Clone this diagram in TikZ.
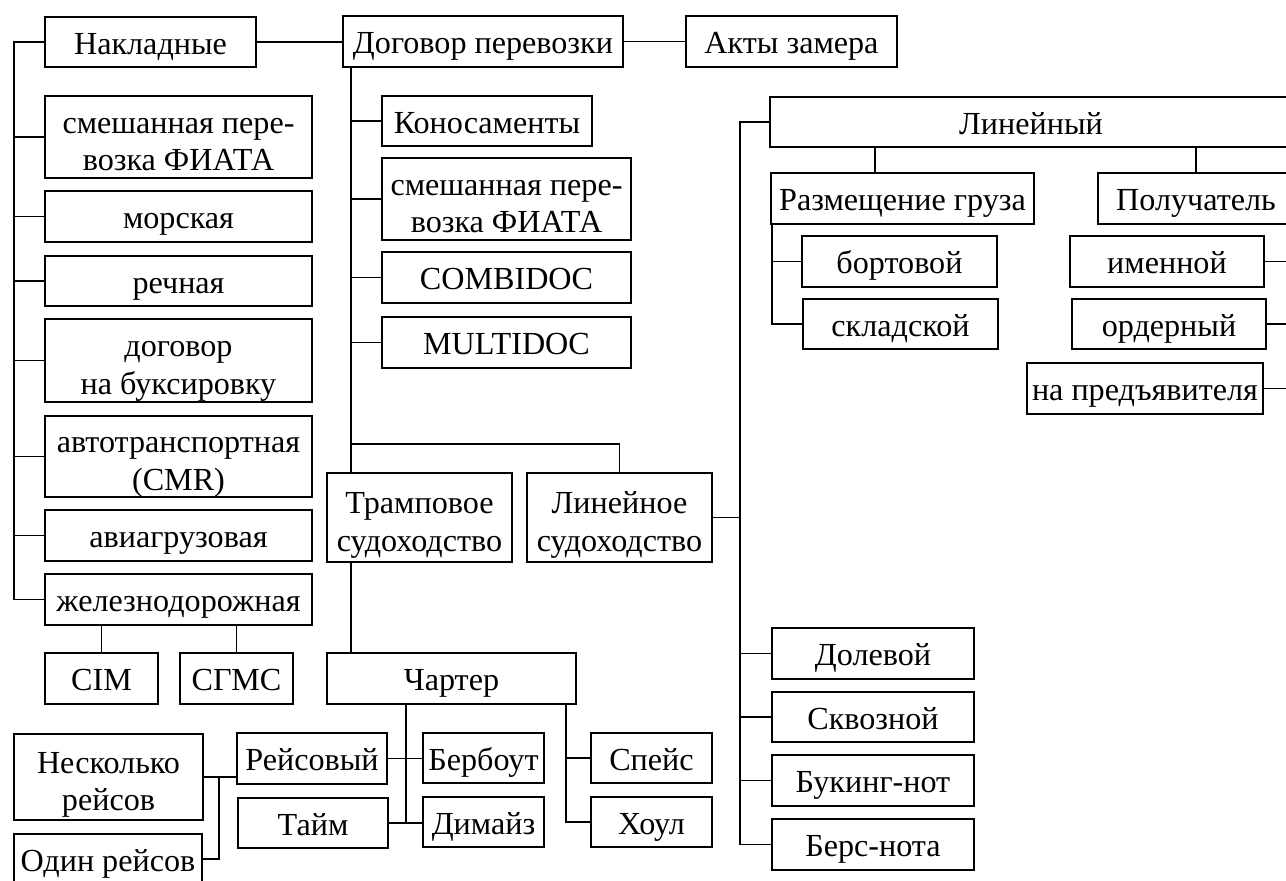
\documentclass[tikz,border=0pt]{standalone}
\usepackage{fontspec}
\setmainfont{Liberation Serif}
\usetikzlibrary{positioning}
\tikzset{
    box/.style={
        rectangle,
        draw=black,
        line width=1pt,
        inner sep=0pt,
        align=center,
        font=\fontsize{18.3}{21.5}\selectfont,
        text height=19.6pt,
        text depth=5.4pt
    },
    pair/.style={
        text height=42.5pt,
        text depth=4pt
    },
    wh/.style 2 args={
        minimum width=#1*0.02cm,
        minimum height=#2*0.02cm
    },
    link/.style={
        line width=1pt
    }
}

\begin{document}
\begin{tikzpicture}[x=0.02cm, y=-0.02cm]

\useasboundingbox (0,0) rectangle (1286,880);
\clip (0,0) rectangle (1286,880);

% top row
\node (nakl) [box, wh={211}{50}] at (150.5,42) {Накладные};
\node (dogovor) [box, wh={280}{51}] at (483,41.5) {Договор перевозки};
\node (akty) [box, wh={211}{51}] at (791.5,41.5) {Акты замера};

% left column
\node (smesh1) [box, pair, wh={267}{82}] at (178.5,137) {смешанная пере-\\возка ФИАТА};
\node (morsk) [box, wh={267}{51}] at (178.5,216.5) {морская};
\node (rechn) [box, wh={267}{50}] at (178.5,281) {речная};
\node (buks) [box, pair, wh={267}{83}] at (178.5,360.5) {договор\\на буксировку};
\node (avto) [box, pair, wh={267}{81}] at (178.5,456.5) {автотранспортная\\(CMR)};
\node (avia) [box, wh={267}{51}] at (178.5,535.5) {авиагрузовая};
\node (zhd) [box, wh={267}{51}] at (178.5,599.5) {железнодорожная};
\node (cim) [box, wh={113}{51}] at (101.5,678.5) {CIM};
\node (sgms) [box, wh={113}{51}] at (236.5,678.5) {СГМС};

% middle column
\node (konos) [box, wh={210}{50}] at (487,121) {Коносаменты};
\node (smesh2) [box, pair, wh={249}{82}] at (506.5,199) {смешанная пере-\\возка ФИАТА};
\node (combi) [box, wh={249}{51}] at (506.5,277.5) {COMBIDOC};
\node (multi) [box, wh={249}{51}] at (506.5,342.5) {MULTIDOC};
\node (tramp) [box, pair, wh={185}{89}] at (419.5,517.5) {Трамповое\\судоходство};
\node (linsud) [box, pair, wh={185}{89}] at (619.5,517.5) {Линейное\\судоходство};

% charter
\node (charter) [box, wh={249}{51}] at (451.5,678.5) {Чартер};
\node (reys) [box, wh={150}{51}] at (312,758.5) {Рейсовый};
\node (taym) [box, wh={150}{50}] at (313,823) {Тайм};
\node (berb) [box, wh={121}{50}] at (483.5,758) {Бербоут};
\node (dimayz) [box, wh={121}{50}] at (483.5,822) {Димайз};
\node (speys) [box, wh={121}{50}] at (651.5,758) {Спейс};
\node (houl) [box, wh={121}{50}] at (651.5,822) {Хоул};
\node (neskolko) [box, pair, wh={189}{86}] at (108.5,777) {Несколько\\рейсов};
\node (odin) [box, wh={188}{50}] at (108,859) {Один рейсов};

% liner
\node (linzh) [box, wh={522}{50}] at (1031,122) {Линейный};
\node (razm) [box, wh={263}{51}] at (902.5,198.5) {Размещение груза};
\node (bort) [box, wh={195}{51}] at (899.5,261.5) {бортовой};
\node (sklad) [box, wh={195}{50}] at (900.5,324) {складской};
\node (poluch) [box, wh={196}{51}] at (1196,198.5) {Получатель};
\node (imen) [box, wh={194}{51}] at (1167,261.5) {именной};
\node (order) [box, wh={194}{50}] at (1169,324) {ордерный};
\node (predj) [box, wh={236}{51}] at (1145,388.5) {на предъявителя};
\node (dolev) [box, wh={202}{51}] at (873,653.5) {Долевой};
\node (skvoz) [box, wh={202}{50}] at (873,717) {Сквозной};
\node (buking) [box, wh={202}{51}] at (873,780.5) {Букинг-нот};
\node (bers) [box, wh={202}{51}] at (873,844.5) {Берс-нота};

% trunks
\coordinate (ltop) at (14,42);
\coordinate (mtrunk) at (351,0);
\coordinate (split) at (351,444);
\coordinate (rtop) at (740,122);
\coordinate (rzm) at (875,0);
\coordinate (rzl) at (772,0);
\coordinate (plr) at (1289,0);
\coordinate (chl) at (406,0);
\coordinate (chr) at (566,0);
\coordinate (nsk) at (219,0);

\draw [link] (nakl.east) -- (nakl.east -| dogovor.west);
\draw [link] (dogovor.east) -- (dogovor.east -| akty.west);

\draw [link] (nakl.west) -- (ltop) |- (zhd.west);
\foreach \n in {smesh1,morsk,rechn,buks,avto,avia}
    \draw [link] (ltop |- \n.west) -- (\n.west);
\draw [link] (cim.north) -- (cim.north |- zhd.south);
\draw [link] (sgms.north) -- (sgms.north |- zhd.south);

\draw [link] (mtrunk |- dogovor.south) -- (mtrunk |- tramp.north);
\foreach \n in {konos,smesh2,combi,multi}
    \draw [link] (mtrunk |- \n.west) -- (\n.west);
\draw [link] (split) -| (linsud.north);
\draw [link] (mtrunk |- tramp.south) -- (mtrunk |- charter.north);

\draw [link] (linzh.west) -- (rtop) |- (bers.west);
\draw [link] (linsud.east) -- (rtop |- linsud.east);
\foreach \n in {dolev,skvoz,buking}
    \draw [link] (rtop |- \n.west) -- (\n.west);

\draw [link] (linzh.south -| rzm) -- (razm.north -| rzm);
\draw [link] (poluch.north) -- (poluch.north |- linzh.south);
\draw [link] (razm.south -| rzl) |- (sklad.west);
\draw [link] (rzl |- bort.west) -- (bort.west);
\draw [link] (poluch.south -| plr) |- (predj.east);
\foreach \n in {imen,order}
    \draw [link] (plr |- \n.east) -- (\n.east);

\draw [link] (charter.south -| chl) -- (chl |- dimayz.west);
\draw [link] (reys.east) -- (reys.east -| berb.west);
\draw [link] (taym.east) -- (taym.east -| dimayz.west);
\draw [link] (charter.south -| chr) |- (houl.west);
\draw [link] (chr |- speys.west) -- (speys.west);
\draw [link] (neskolko.east) -- (neskolko.east -| reys.west);
\draw [link] (nsk |- neskolko.east) |- (odin.east);

\end{tikzpicture}
\end{document}
